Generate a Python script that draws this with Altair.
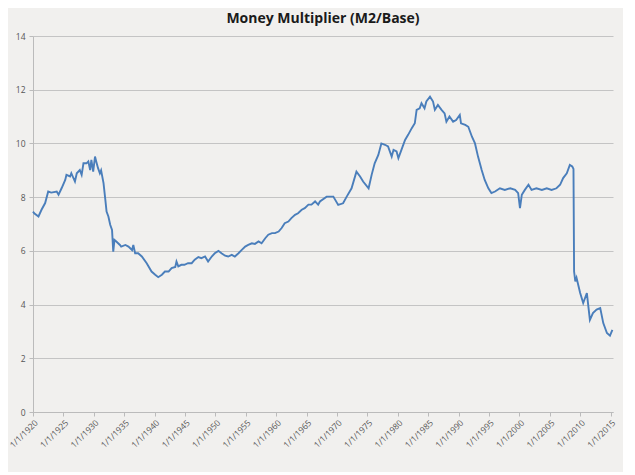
import altair as alt
import pandas as pd

years = [1920.0, 1920.2, 1920.9, 1921.4, 1922.0, 1922.5, 1923.0, 1923.9, 1924.2, 1924.7,
         1925.3, 1925.5, 1926.1, 1926.3, 1926.9, 1927.2, 1927.7, 1928.0, 1928.3, 1928.8,
         1929.1, 1929.4, 1929.6, 1929.9, 1930.2, 1930.4, 1930.7, 1931.0, 1931.2, 1931.6,
         1931.9, 1932.1, 1932.4, 1932.7, 1933.0, 1933.2, 1933.4, 1933.7, 1934.3, 1934.5,
         1935.2, 1935.7, 1936.3, 1936.5, 1936.8, 1937.3, 1937.9, 1938.7, 1939.5, 1940.1,
         1940.6, 1941.2, 1941.7, 1942.3, 1942.8, 1943.4, 1943.6, 1943.9, 1944.4, 1944.9,
         1945.5, 1946.1, 1946.6, 1947.2, 1947.7, 1948.3, 1948.8, 1949.4, 1949.9, 1950.5,
         1951.0, 1951.6, 1952.1, 1952.7, 1953.2, 1953.8, 1954.3, 1954.9, 1955.4, 1956.0,
         1956.5, 1957.1, 1957.6, 1958.2, 1958.7, 1959.3, 1959.8, 1960.4, 1960.9, 1961.4,
         1962.0, 1962.5, 1963.1, 1963.6, 1964.2, 1964.7, 1965.3, 1965.8, 1966.4, 1966.9,
         1967.2, 1968.3, 1969.4, 1970.2, 1971.0, 1971.6, 1972.4, 1973.2, 1973.8, 1974.3,
         1975.2, 1975.7, 1976.2, 1976.8, 1977.3, 1977.9, 1978.4, 1979.0, 1979.3, 1979.8,
         1980.1, 1980.6, 1981.2, 1981.7, 1982.3, 1982.8, 1983.1, 1983.6, 1983.9, 1984.4,
         1984.7, 1985.3, 1985.8, 1986.1, 1986.6, 1987.2, 1987.7, 1988.0, 1988.5, 1989.1,
         1989.6, 1990.2, 1990.4, 1991.1, 1991.6, 1992.2, 1992.7, 1993.2, 1993.8, 1994.3,
         1994.9, 1995.4, 1996.0, 1996.8, 1997.6, 1998.5, 1999.3, 1999.8, 2000.1, 2000.4,
         2000.9, 2001.5, 2002.0, 2002.8, 2003.7, 2004.5, 2005.3, 2006.1, 2006.7, 2007.2,
         2007.8, 2008.3, 2008.7, 2008.9, 2009.0, 2009.2, 2009.4, 2010.0, 2010.5, 2011.1,
         2011.6, 2012.1, 2012.7, 2013.3, 2013.8, 2014.4, 2014.9, 2015.3]

multiplier = [7.46, 7.40, 7.28, 7.53, 7.78, 8.21, 8.17, 8.21, 8.09, 8.33,
              8.64, 8.83, 8.77, 8.89, 8.58, 8.89, 9.01, 8.83, 9.26, 9.26,
              9.33, 9.01, 9.39, 8.95, 9.51, 9.33, 9.08, 8.89, 9.00, 8.52,
              7.90, 7.46, 7.28, 6.97, 6.78, 5.97, 6.41, 6.35, 6.22, 6.16,
              6.22, 6.16, 6.03, 6.22, 5.91, 5.91, 5.79, 5.54, 5.23, 5.11,
              5.02, 5.11, 5.23, 5.23, 5.36, 5.40, 5.60, 5.42, 5.48, 5.48,
              5.54, 5.54, 5.67, 5.77, 5.73, 5.79, 5.60, 5.79, 5.91, 6.00,
              5.91, 5.82, 5.79, 5.85, 5.79, 5.91, 6.03, 6.16, 6.22, 6.28,
              6.26, 6.35, 6.28, 6.47, 6.60, 6.66, 6.66, 6.72, 6.85, 7.03,
              7.09, 7.22, 7.34, 7.40, 7.53, 7.59, 7.72, 7.72, 7.84, 7.72,
              7.84, 8.02, 8.02, 7.71, 7.77, 8.02, 8.33, 8.95, 8.77, 8.58,
              8.33, 8.83, 9.26, 9.57, 10.00, 9.95, 9.89, 9.51, 9.76, 9.70,
              9.45, 9.76, 10.13, 10.32, 10.57, 10.75, 11.25, 11.31, 11.50, 11.31,
              11.56, 11.74, 11.56, 11.25, 11.43, 11.25, 11.12, 10.81, 11.00, 10.81,
              10.87, 11.06, 10.75, 10.69, 10.62, 10.25, 10.00, 9.51, 9.01, 8.64,
              8.33, 8.15, 8.21, 8.33, 8.27, 8.33, 8.27, 8.15, 7.59, 8.09,
              8.27, 8.46, 8.27, 8.33, 8.27, 8.33, 8.27, 8.33, 8.46, 8.71,
              8.89, 9.20, 9.14, 9.05, 5.23, 4.86, 5.00, 4.43, 4.06, 4.43,
              3.43, 3.68, 3.81, 3.87, 3.31, 2.94, 2.84, 3.06]

x_ticks = [1920, 1925, 1930, 1935, 1940, 1945, 1950, 1955, 1960, 1965,
           1970, 1975, 1980, 1985, 1990, 1995, 2000, 2005, 2010, 2015]
y_ticks = [0, 2, 4, 6, 8, 10, 12, 14]

df = pd.DataFrame({"year": years, "value": multiplier})

chart = alt.Chart(df).mark_line(color="#4a7ebb", strokeWidth=1.9).encode(
    x=alt.X("year:Q",
            scale=alt.Scale(domain=[1920, 2015.4], nice=False, zero=False),
            axis=alt.Axis(values=x_ticks, labelExpr="'1/1/' + datum.value",
                          labelAngle=-45, labelAlign="right", labelBaseline="top",
                          labelOverlap=False, labelFlush=False,
                          grid=False, title=None, labelFontSize=8.5,
                          labelColor="#555555", domainColor="#bbbbbb",
                          tickColor="#bbbbbb", tickSize=4, labelPadding=2)),
    y=alt.Y("value:Q",
            scale=alt.Scale(domain=[0, 14], nice=False),
            axis=alt.Axis(values=y_ticks, title=None, labelFontSize=8.5,
                          labelColor="#555555", domainColor="#bbbbbb",
                          tickColor="#bbbbbb", tickSize=4, gridColor="#c4c4c4",
                          gridWidth=1.2, labelPadding=4)),
).properties(
    width=580,
    height=376,
    title=alt.Title("Money Multiplier (M2/Base)", fontSize=14, font="Open Sans",
                    fontWeight="bold", color="#1a1a1a", anchor="middle", offset=6),
    autosize=alt.AutoSizeParams(type="none"),
    padding={"left": 25, "top": 28, "right": 10, "bottom": 60},
    background="#f1f0ee",
).configure_view(stroke=None).configure_axis(labelFont="Open Sans")

chart.save("out.html", embed_options={"renderer": "svg", "actions": False})
